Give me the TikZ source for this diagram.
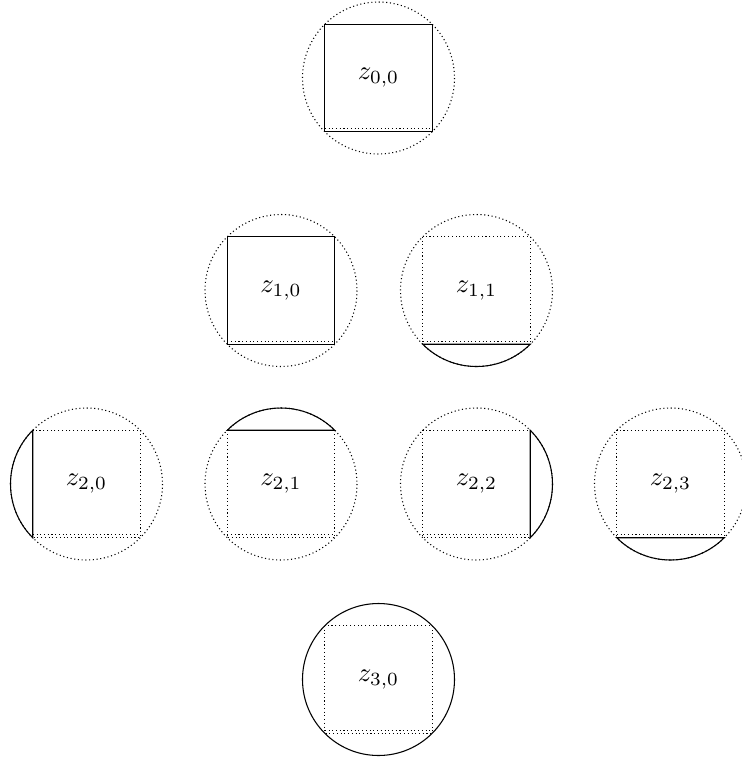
\documentclass[tikz,border=0pt]{standalone}
\tikzset{
  dotline/.style={densely dotted, line width=0.4pt},
  solidline/.style={line width=0.4pt},
  lbl/.style={inner sep=1pt}
}
\newcommand\cellR{76}
\newcommand\cellS{53.7}
\newcommand\cellB{50.7}
\begin{document}
\begin{tikzpicture}[x=0.375pt,y=-0.375pt]
\useasboundingbox (0,0) rectangle (742,760);

% z_{0,0}
\begin{scope}[shift={(378.5,78)}]
  \draw[dotline] (0,0) circle (\cellR);
  \draw[solidline] (-\cellS,-\cellS) rectangle (\cellS,\cellS);
  \draw[dotline] (-\cellS,\cellB) -- (\cellS,\cellB);
  \node[lbl] (z00) at (0,0) {$z_{0,0}$};
\end{scope}

% z_{1,0}
\begin{scope}[shift={(281,290.5)}]
  \draw[dotline] (0,0) circle (\cellR);
  \draw[solidline] (-\cellS,-\cellS) rectangle (\cellS,\cellS);
  \draw[dotline] (-\cellS,\cellB) -- (\cellS,\cellB);
  \node[lbl] (z10) at (0,0) {$z_{1,0}$};
\end{scope}

% z_{1,1}
\begin{scope}[shift={(476.5,290.5)}]
  \draw[dotline] (0,0) circle (\cellR);
  \draw[dotline] (-\cellS,-\cellS) rectangle (\cellS,\cellS);
  \draw[dotline] (-\cellS,\cellB) -- (\cellS,\cellB);
  \draw[solidline] (135:\cellR) arc[start angle=135,end angle=45,radius=\cellR] -- cycle;
  \node[lbl] (z11) at (0,0) {$z_{1,1}$};
\end{scope}

% z_{2,0}
\begin{scope}[shift={(86.5,484)}]
  \draw[dotline] (0,0) circle (\cellR);
  \draw[dotline] (-\cellS,-\cellS) rectangle (\cellS,\cellS);
  \draw[dotline] (-\cellS,\cellB) -- (\cellS,\cellB);
  \draw[solidline] (135:\cellR) arc[start angle=135,end angle=225,radius=\cellR] -- cycle;
  \node[lbl] (z20) at (0,0) {$z_{2,0}$};
\end{scope}

% z_{2,1}
\begin{scope}[shift={(281,484)}]
  \draw[dotline] (0,0) circle (\cellR);
  \draw[dotline] (-\cellS,-\cellS) rectangle (\cellS,\cellS);
  \draw[dotline] (-\cellS,\cellB) -- (\cellS,\cellB);
  \draw[solidline] (225:\cellR) arc[start angle=225,end angle=315,radius=\cellR] -- cycle;
  \node[lbl] (z21) at (0,0) {$z_{2,1}$};
\end{scope}

% z_{2,2}
\begin{scope}[shift={(476.5,484)}]
  \draw[dotline] (0,0) circle (\cellR);
  \draw[dotline] (-\cellS,-\cellS) rectangle (\cellS,\cellS);
  \draw[dotline] (-\cellS,\cellB) -- (\cellS,\cellB);
  \draw[solidline] (-45:\cellR) arc[start angle=-45,end angle=45,radius=\cellR] -- cycle;
  \node[lbl] (z22) at (0,0) {$z_{2,2}$};
\end{scope}

% z_{2,3}
\begin{scope}[shift={(670.5,484)}]
  \draw[dotline] (0,0) circle (\cellR);
  \draw[dotline] (-\cellS,-\cellS) rectangle (\cellS,\cellS);
  \draw[dotline] (-\cellS,\cellB) -- (\cellS,\cellB);
  \draw[solidline] (135:\cellR) arc[start angle=135,end angle=45,radius=\cellR] -- cycle;
  \node[lbl] (z23) at (0,0) {$z_{2,3}$};
\end{scope}

% z_{3,0}
\begin{scope}[shift={(378.5,679.5)}]
  \draw[solidline] (0,0) circle (\cellR);
  \draw[dotline] (-\cellS,-\cellS) rectangle (\cellS,\cellS);
  \draw[dotline] (-\cellS,\cellB) -- (\cellS,\cellB);
  \node[lbl] (z30) at (0,0) {$z_{3,0}$};
\end{scope}
\end{tikzpicture}
\end{document}
